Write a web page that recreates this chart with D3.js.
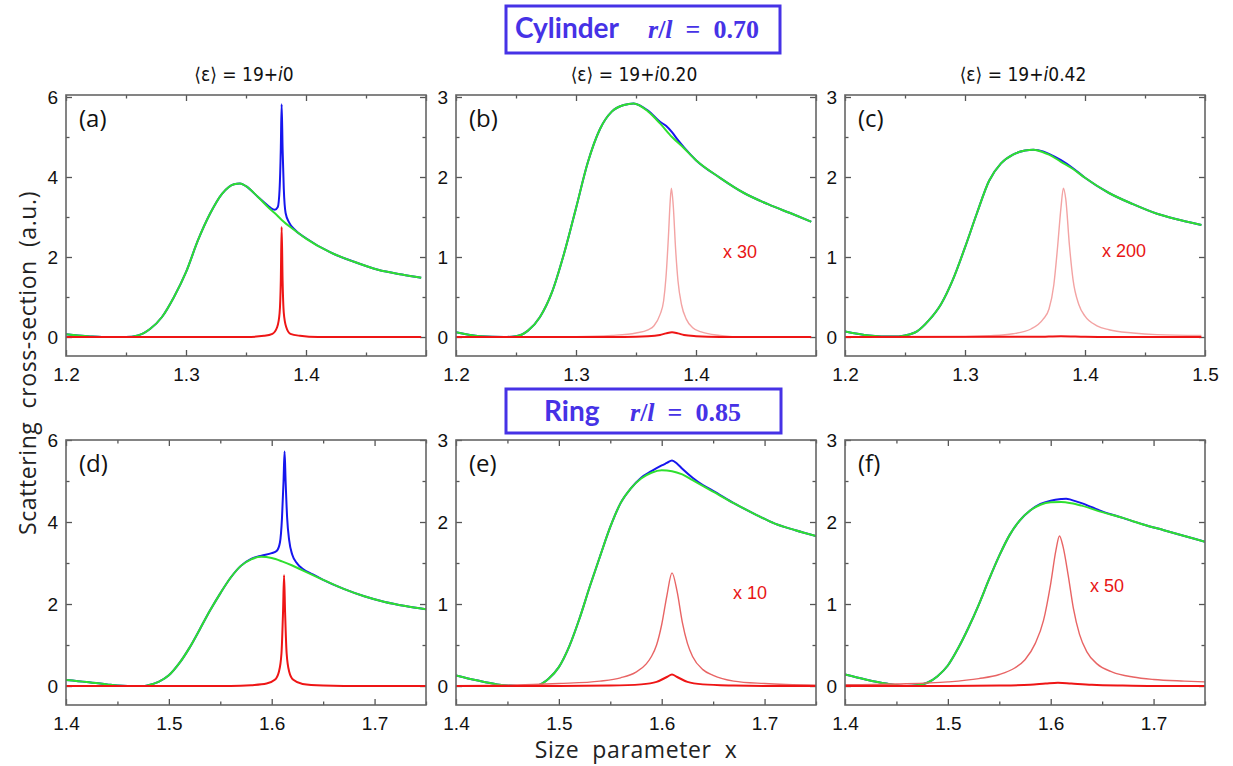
<!DOCTYPE html>
<html>
<head>
<meta charset="utf-8">
<script src="https://cdn.jsdelivr.net/npm/d3@7"></script>
<style>
    body { margin: 0; background: #fff; }
    .tick text { font-family: "Liberation Sans", Arial, sans-serif; font-size: 19px; fill: #111; }
    .tick line { stroke: #555; stroke-width: 1.3; }
</style>
</head>
<body>
<svg id="chart" width="1233" height="766"></svg>
<script>
// ---- data: [size parameter x, cross-section] ----
const aGreen = [[1.2,0.07],[1.21,0.04],[1.22,0.015],[1.23,0],[1.25,0],[1.26,0.04],[1.27,0.2],[1.28,0.5],[1.29,1.0],[1.30,1.62],[1.31,2.42],[1.32,3.08],[1.33,3.58],[1.34,3.82],[1.345,3.84],[1.35,3.77],[1.36,3.5],[1.37,3.2],[1.375,3.07],[1.38,2.92],[1.39,2.68],[1.40,2.46],[1.42,2.12],[1.44,1.88],[1.46,1.68],[1.48,1.56],[1.496,1.48]];
const aBlue = [[1.2,0.07],[1.21,0.04],[1.22,0.015],[1.23,0],[1.25,0],[1.26,0.04],[1.27,0.2],[1.28,0.5],[1.29,1.0],[1.30,1.62],[1.31,2.42],[1.32,3.08],[1.33,3.58],[1.34,3.82],[1.345,3.84],[1.35,3.77],[1.36,3.5],[1.365,3.37],[1.37,3.24],[1.374,3.18],[1.3765,3.25],[1.378,3.7],[1.379,4.7],[1.3797,5.82],[1.3805,4.7],[1.3815,3.7],[1.383,3.1],[1.386,2.86],[1.39,2.7],[1.40,2.47],[1.42,2.12],[1.44,1.88],[1.46,1.68],[1.48,1.56],[1.496,1.48]];
const aRed = [[1.2,0],[1.35,0],[1.365,0.03],[1.372,0.08],[1.376,0.25],[1.378,0.6],[1.379,1.4],[1.3797,2.75],[1.3805,1.4],[1.3815,0.6],[1.3835,0.25],[1.387,0.08],[1.395,0.03],[1.41,0],[1.496,0]];

const bGreen = [[1.2,0.06],[1.22,0.01],[1.24,0],[1.25,0.01],[1.26,0.08],[1.27,0.25],[1.28,0.56],[1.29,1.04],[1.30,1.61],[1.31,2.19],[1.32,2.6],[1.33,2.82],[1.34,2.9],[1.348,2.92],[1.36,2.82],[1.37,2.67],[1.38,2.5],[1.39,2.36],[1.40,2.21],[1.42,1.99],[1.44,1.8],[1.46,1.66],[1.48,1.54],[1.496,1.44]];
const bBlue = [[1.2,0.06],[1.22,0.01],[1.24,0],[1.25,0.01],[1.26,0.08],[1.27,0.25],[1.28,0.56],[1.29,1.04],[1.30,1.61],[1.31,2.19],[1.32,2.6],[1.33,2.82],[1.34,2.9],[1.348,2.92],[1.36,2.83],[1.37,2.69],[1.375,2.64],[1.38,2.56],[1.385,2.46],[1.39,2.37],[1.40,2.21],[1.42,1.99],[1.44,1.8],[1.46,1.66],[1.48,1.54],[1.496,1.44]];
const bRed = [[1.2,0],[1.34,0],[1.36,0.008],[1.37,0.025],[1.375,0.045],[1.38,0.06],[1.385,0.045],[1.39,0.025],[1.40,0.01],[1.42,0],[1.496,0]];
const bPink = [[1.2,0],[1.30,0.005],[1.33,0.02],[1.35,0.05],[1.36,0.09],[1.365,0.14],[1.37,0.28],[1.373,0.45],[1.375,0.75],[1.377,1.25],[1.3785,1.7],[1.3795,1.86],[1.381,1.65],[1.383,1.1],[1.385,0.7],[1.388,0.4],[1.392,0.22],[1.397,0.12],[1.405,0.06],[1.42,0.02],[1.44,0],[1.496,0]];

const cGreen = [[1.2,0.07],[1.22,0.02],[1.24,0.005],[1.25,0.02],[1.26,0.07],[1.27,0.21],[1.28,0.41],[1.29,0.72],[1.30,1.12],[1.31,1.55],[1.32,1.95],[1.33,2.17],[1.34,2.28],[1.35,2.33],[1.357,2.34],[1.365,2.31],[1.37,2.28],[1.38,2.19],[1.39,2.1],[1.40,1.99],[1.42,1.8],[1.44,1.66],[1.46,1.54],[1.48,1.46],[1.497,1.4]];
const cBlue = [[1.2,0.07],[1.22,0.02],[1.24,0.005],[1.25,0.02],[1.26,0.07],[1.27,0.21],[1.28,0.41],[1.29,0.72],[1.30,1.12],[1.31,1.55],[1.32,1.95],[1.33,2.17],[1.34,2.28],[1.35,2.33],[1.357,2.34],[1.365,2.32],[1.37,2.29],[1.38,2.21],[1.39,2.11],[1.40,1.99],[1.42,1.8],[1.44,1.66],[1.46,1.54],[1.48,1.46],[1.497,1.4]];
const cRed = [[1.2,0],[1.36,0.002],[1.38,0.01],[1.40,0.003],[1.42,0],[1.497,0]];
const cPink = [[1.2,0],[1.30,0.005],[1.32,0.015],[1.34,0.04],[1.355,0.1],[1.365,0.22],[1.37,0.35],[1.374,0.65],[1.377,1.1],[1.38,1.62],[1.382,1.86],[1.384,1.72],[1.387,1.15],[1.39,0.72],[1.395,0.4],[1.40,0.26],[1.41,0.14],[1.42,0.09],[1.44,0.05],[1.46,0.03],[1.497,0.02]];

const dGreen = [[1.4,0.15],[1.42,0.1],[1.44,0.04],[1.45,0.01],[1.46,0],[1.475,0],[1.48,0.02],[1.49,0.1],[1.50,0.26],[1.51,0.55],[1.52,0.93],[1.53,1.38],[1.54,1.84],[1.55,2.26],[1.56,2.64],[1.57,2.93],[1.58,3.09],[1.59,3.15],[1.60,3.12],[1.61,3.04],[1.62,2.94],[1.63,2.82],[1.65,2.59],[1.67,2.37],[1.69,2.19],[1.71,2.05],[1.73,1.95],[1.75,1.87]];
const dBlue = [[1.4,0.15],[1.42,0.1],[1.44,0.04],[1.45,0.01],[1.46,0],[1.475,0],[1.48,0.02],[1.49,0.1],[1.50,0.26],[1.51,0.55],[1.52,0.93],[1.53,1.38],[1.54,1.84],[1.55,2.26],[1.56,2.64],[1.57,2.93],[1.58,3.1],[1.59,3.18],[1.60,3.24],[1.605,3.3],[1.608,3.5],[1.610,4.1],[1.6115,5.0],[1.6125,5.72],[1.6135,5.0],[1.615,4.1],[1.617,3.55],[1.62,3.2],[1.625,2.98],[1.63,2.86],[1.64,2.72],[1.65,2.59],[1.67,2.37],[1.69,2.19],[1.71,2.05],[1.73,1.95],[1.75,1.87]];
const dRed = [[1.4,0],[1.56,0],[1.58,0.02],[1.595,0.06],[1.603,0.15],[1.607,0.35],[1.6095,0.8],[1.611,1.8],[1.612,2.7],[1.613,1.8],[1.6145,0.8],[1.617,0.35],[1.621,0.15],[1.63,0.05],[1.65,0.01],[1.67,0],[1.75,0]];

const eGreen = [[1.4,0.13],[1.42,0.07],[1.44,0.02],[1.46,0],[1.475,0],[1.48,0.01],[1.49,0.09],[1.50,0.23],[1.51,0.48],[1.52,0.82],[1.53,1.21],[1.54,1.58],[1.55,1.94],[1.56,2.23],[1.57,2.41],[1.58,2.53],[1.59,2.6],[1.60,2.63],[1.61,2.62],[1.62,2.58],[1.63,2.51],[1.65,2.37],[1.67,2.23],[1.69,2.1],[1.71,1.98],[1.73,1.9],[1.75,1.83]];
const eBlue = [[1.4,0.13],[1.42,0.07],[1.44,0.02],[1.46,0],[1.475,0],[1.48,0.01],[1.49,0.09],[1.50,0.23],[1.51,0.48],[1.52,0.82],[1.53,1.21],[1.54,1.58],[1.55,1.94],[1.56,2.23],[1.57,2.41],[1.58,2.54],[1.59,2.62],[1.60,2.69],[1.605,2.72],[1.61,2.75],[1.615,2.71],[1.62,2.65],[1.63,2.54],[1.64,2.45],[1.65,2.38],[1.67,2.23],[1.69,2.1],[1.71,1.98],[1.73,1.9],[1.75,1.83]];
const eRed = [[1.4,0],[1.5,0],[1.55,0.005],[1.58,0.02],[1.595,0.05],[1.605,0.11],[1.61,0.14],[1.615,0.11],[1.625,0.05],[1.64,0.02],[1.67,0.005],[1.7,0],[1.75,0]];
const ePink = [[1.4,0.005],[1.45,0.01],[1.5,0.03],[1.54,0.06],[1.56,0.1],[1.575,0.17],[1.585,0.27],[1.59,0.36],[1.595,0.5],[1.60,0.75],[1.605,1.1],[1.61,1.38],[1.615,1.15],[1.62,0.78],[1.625,0.52],[1.63,0.36],[1.64,0.2],[1.65,0.13],[1.67,0.06],[1.70,0.03],[1.75,0.01]];

const fGreen = [[1.4,0.14],[1.42,0.08],[1.44,0.03],[1.46,0],[1.47,0.01],[1.48,0.04],[1.49,0.12],[1.50,0.25],[1.51,0.46],[1.52,0.71],[1.53,0.99],[1.54,1.3],[1.55,1.59],[1.56,1.84],[1.57,2.02],[1.58,2.14],[1.59,2.21],[1.60,2.24],[1.61,2.245],[1.62,2.23],[1.63,2.2],[1.65,2.12],[1.67,2.05],[1.69,1.97],[1.71,1.9],[1.73,1.83],[1.75,1.76]];
const fBlue = [[1.4,0.14],[1.42,0.08],[1.44,0.03],[1.46,0],[1.47,0.01],[1.48,0.04],[1.49,0.12],[1.50,0.25],[1.51,0.46],[1.52,0.71],[1.53,0.99],[1.54,1.3],[1.55,1.59],[1.56,1.84],[1.57,2.02],[1.58,2.14],[1.59,2.22],[1.60,2.26],[1.61,2.28],[1.615,2.285],[1.62,2.27],[1.63,2.23],[1.64,2.18],[1.65,2.13],[1.67,2.05],[1.69,1.97],[1.71,1.9],[1.73,1.83],[1.75,1.76]];
const fRed = [[1.4,0],[1.5,0],[1.55,0.005],[1.58,0.015],[1.595,0.03],[1.607,0.04],[1.62,0.03],[1.64,0.015],[1.67,0.005],[1.7,0],[1.75,0]];
const fPink = [[1.4,0.015],[1.45,0.025],[1.5,0.05],[1.53,0.09],[1.55,0.14],[1.565,0.22],[1.575,0.32],[1.585,0.52],[1.593,0.8],[1.60,1.25],[1.605,1.65],[1.6085,1.83],[1.612,1.7],[1.617,1.35],[1.622,0.95],[1.628,0.63],[1.635,0.42],[1.645,0.27],[1.66,0.17],[1.68,0.11],[1.70,0.08],[1.73,0.06],[1.75,0.05]];

// ticks and labels
const xTopMajor = [1.2, 1.3, 1.4, 1.5];
const xTopMinor = [1.25, 1.35, 1.45];
const xBotMajor = [1.4, 1.5, 1.6, 1.7];
const xBotMinor = [1.45, 1.55, 1.65, 1.75];
const yBigMajor = [0, 2, 4, 6];
const yBigMinor = [1, 3, 5];
const ySmallMajor = [0, 1, 2, 3];
const ySmallMinor = [0.5, 1.5, 2.5];
const panelLetters = ['(a)', '(b)', '(c)', '(d)', '(e)', '(f)'];
const columnTitles = ['0', '0.20', '0.42'];
const scaleNotes = ['', 'x 30', 'x 200', '', 'x 10', 'x 50'];

const colors = { green: '#2fe02f', blue: '#1616ee', red: '#ee1515', pink: '#f3a3a3', pink2: '#e86464', frame: '#666' };

class ScatterPanel {

    constructor(_config, _data) {
        this.config = {
            parent: _config.parent,
            left: _config.left,
            top: _config.top,
            width: _config.width,
            height: _config.height,
            xDomain: _config.xDomain,
            yDomain: _config.yDomain,
            xMajor: _config.xMajor,
            xMinor: _config.xMinor,
            xLabels: _config.xLabels,
            yMajor: _config.yMajor,
            yMinor: _config.yMinor,
            letter: _config.letter,
            note: _config.note,
            noteX: _config.noteX,
            noteY: _config.noteY,
            pinkColor: _config.pinkColor,
            id: _config.id
        };
        this.data = _data;
        this.initVis();
    }

    initVis() {
        let vis = this;
        const c = vis.config;

        vis.xScale = d3.scaleLinear().domain(c.xDomain).range([0, c.width]);
        vis.yScale = d3.scaleLinear().domain(c.yDomain).range([c.height, 0]);

        vis.chart = c.parent.append('g')
            .attr('transform', `translate(${c.left},${c.top})`);

        vis.chart.append('clipPath').attr('id', 'clip-' + c.id)
            .append('rect').attr('width', c.width).attr('height', c.height);

        vis.line = d3.line()
            .x(d => vis.xScale(d[0]))
            .y(d => vis.yScale(d[1]))
            .curve(d3.curveMonotoneX);
    }

    renderVis() {
        let vis = this;
        const c = vis.config;

        const fmt = d3.format('.1f');

        // inward ticks on all four sides, labels on bottom and left
        vis.chart.append('g').attr('transform', `translate(0,${c.height})`)
            .call(d3.axisBottom(vis.xScale).tickValues(c.xMajor).tickSize(-6).tickPadding(12)
                .tickFormat(d => c.xLabels.includes(d) ? fmt(d) : ''));
        vis.chart.append('g').attr('transform', `translate(0,${c.height})`)
            .call(d3.axisBottom(vis.xScale).tickValues(c.xMinor).tickSize(-3.5).tickFormat(''));
        vis.chart.append('g')
            .call(d3.axisTop(vis.xScale).tickValues(c.xMajor).tickSize(-6).tickFormat(''));
        vis.chart.append('g')
            .call(d3.axisTop(vis.xScale).tickValues(c.xMinor).tickSize(-3.5).tickFormat(''));

        vis.chart.append('g')
            .call(d3.axisLeft(vis.yScale).tickValues(c.yMajor).tickSize(-6).tickPadding(8).tickFormat(d3.format('d')));
        vis.chart.append('g')
            .call(d3.axisLeft(vis.yScale).tickValues(c.yMinor).tickSize(-3.5).tickFormat(''));
        vis.chart.append('g').attr('transform', `translate(${c.width},0)`)
            .call(d3.axisRight(vis.yScale).tickValues(c.yMajor).tickSize(-6).tickFormat(''));
        vis.chart.append('g').attr('transform', `translate(${c.width},0)`)
            .call(d3.axisRight(vis.yScale).tickValues(c.yMinor).tickSize(-3.5).tickFormat(''));

        vis.chart.selectAll('.domain').remove();

        const plot = vis.chart.append('g').attr('clip-path', `url(#clip-${c.id})`);

        const series = [
            { key: 'blue', color: colors.blue, width: 2 },
            { key: 'green', color: colors.green, width: 2 },
            { key: 'pink', color: c.pinkColor, width: 1.4 },
            { key: 'red', color: colors.red, width: 2 }
        ].filter(s => vis.data[s.key]);

        plot.selectAll('path.curve')
            .data(series)
            .join('path')
            .attr('class', 'curve')
            .attr('fill', 'none')
            .attr('stroke', s => s.color)
            .attr('stroke-width', s => s.width)
            .attr('stroke-linejoin', 'round')
            .attr('d', s => vis.line(vis.data[s.key]));

        vis.chart.append('rect')
            .attr('width', c.width)
            .attr('height', c.height)
            .attr('fill', 'none')
            .attr('stroke', colors.frame)
            .attr('stroke-width', 1.6);

        vis.chart.append('text')
            .attr('x', 13)
            .attr('y', 32)
            .attr('font-family', '"Open Sans", sans-serif')
            .attr('font-size', 24)
            .attr('fill', '#111')
            .text(c.letter);

        if (c.note) {
            vis.chart.append('text')
                .attr('x', c.noteX)
                .attr('y', c.noteY)
                .attr('font-family', '"Liberation Sans", Arial, sans-serif')
                .attr('font-size', 18)
                .attr('fill', '#e81515')
                .text(c.note);
        }
    }
}

const svg = d3.select('#chart');

const lefts = [66, 456, 845];
const rows = [
    { top: 95, height: 261, xDomain: [1.2, 1.5], xMajor: xTopMajor, xMinor: xTopMinor },
    { top: 440, height: 265, xDomain: [1.4, 1.75], xMajor: xBotMajor, xMinor: xBotMinor }
];
const seriesByPanel = [
    { green: aGreen, blue: aBlue, red: aRed },
    { green: bGreen, blue: bBlue, red: bRed, pink: bPink },
    { green: cGreen, blue: cBlue, red: cRed, pink: cPink },
    { green: dGreen, blue: dBlue, red: dRed },
    { green: eGreen, blue: eBlue, red: eRed, pink: ePink },
    { green: fGreen, blue: fBlue, red: fRed, pink: fPink }
];
const notePos = [[0, 0], [267, 163], [257, 162], [0, 0], [277, 159], [245, 152]];

seriesByPanel.forEach((data, i) => {
    const row = rows[Math.floor(i / 3)];
    const col = i % 3;
    const big = col === 0;
    let xLabels;
    if (i < 3) xLabels = col === 2 ? xTopMajor : [1.2, 1.3, 1.4];
    else xLabels = xBotMajor;
    const yDomain = i < 3
        ? (big ? [-0.475, 6.05] : [-0.2375, 3.025])
        : (big ? [-0.463, 6.0] : [-0.2315, 3.0]);
    const panel = new ScatterPanel({
        parent: svg,
        id: i,
        left: lefts[col],
        top: row.top,
        width: 360,
        height: row.height,
        xDomain: row.xDomain,
        yDomain: yDomain,
        xMajor: row.xMajor,
        xMinor: row.xMinor,
        xLabels: xLabels,
        yMajor: big ? yBigMajor : ySmallMajor,
        yMinor: big ? yBigMinor : ySmallMinor,
        letter: panelLetters[i],
        note: scaleNotes[i],
        noteX: notePos[i][0],
        noteY: notePos[i][1],
        pinkColor: i < 3 ? colors.pink : colors.pink2
    }, data);
    panel.renderVis();
});

// column headers  <ε> = 19 + i…
columnTitles.forEach((t, i) => {
    const txt = svg.append('text')
        .attr('x', lefts[i] + 178)
        .attr('y', 81)
        .attr('text-anchor', 'middle')
        .attr('font-family', '"Liberation Sans Narrow", "DejaVu Sans Condensed", sans-serif')
        .attr('font-stretch', 'condensed')
        .attr('font-size', 19)
        .attr('fill', '#111');
    txt.append('tspan').text('\u27E8\u03B5\u27E9 = 19+');
    txt.append('tspan').attr('font-style', 'italic').text('i');
    txt.append('tspan').text(t);
});

// boxed row titles
function titleBox(x, y, w, h, word, wordX, ratio, ratioX, baseline) {
    const boxColor = '#4632e6';
    svg.append('rect')
        .attr('x', x).attr('y', y).attr('width', w).attr('height', h)
        .attr('fill', '#fff').attr('stroke', boxColor).attr('stroke-width', 3);
    svg.append('text')
        .attr('x', wordX).attr('y', baseline)
        .attr('font-family', 'Lato, "Open Sans", sans-serif')
        .attr('font-weight', 'bold')
        .attr('font-size', 28)
        .attr('fill', boxColor)
        .text(word);
    const r = svg.append('text')
        .attr('x', ratioX).attr('y', baseline)
        .attr('font-family', '"Liberation Serif", "DejaVu Serif", serif')
        .attr('font-weight', 'bold')
        .attr('font-size', 26)
        .attr('fill', boxColor)
        .attr('xml:space', 'preserve');
    r.append('tspan').attr('font-style', 'italic').text('r');
    r.append('tspan').text('/');
    r.append('tspan').attr('font-style', 'italic').text('l');
    r.append('tspan').text('  =  ' + ratio);
}

titleBox(506, 6, 274, 47, 'Cylinder', 515, '0.70', 648, 38);
titleBox(506, 389, 275, 44, 'Ring', 544, '0.85', 630, 421);

// axis titles
svg.append('text')
    .attr('transform', 'translate(36,363) rotate(-90)')
    .attr('text-anchor', 'middle')
    .attr('font-family', '"Open Sans", sans-serif')
    .attr('font-size', 23)
    .attr('letter-spacing', 0.6)
    .attr('fill', '#222')
    .attr('xml:space', 'preserve')
    .text('Scattering  cross-section  (a.u.)');

svg.append('text')
    .attr('x', 636)
    .attr('y', 758)
    .attr('text-anchor', 'middle')
    .attr('font-family', '"Open Sans", sans-serif')
    .attr('font-size', 23)
    .attr('letter-spacing', 0.6)
    .attr('fill', '#222')
    .attr('xml:space', 'preserve')
    .text('Size  parameter  x');
</script>
</body>
</html>
